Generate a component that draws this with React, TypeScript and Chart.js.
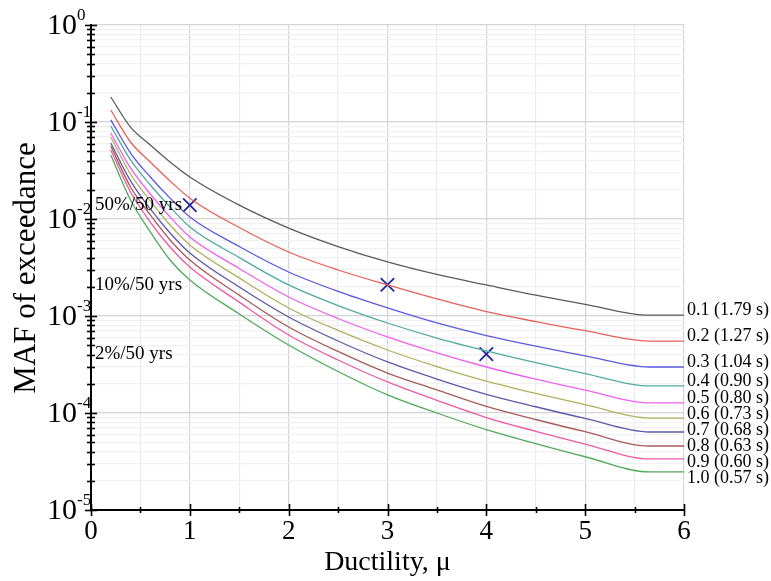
import React, { useEffect, useRef } from "react";
import { Chart, registerables } from "chart.js";

Chart.register(...registerables);

// ---------- data ----------
const ductility = [0.2, 0.4, 0.6, 0.8, 1, 1.5, 2, 2.5, 3, 3.5, 4, 4.5, 5, 5.65, 6];

const seriesLabels = [
  "0.1 (1.79 s)",
  "0.2 (1.27 s)",
  "0.3 (1.04 s)",
  "0.4 (0.90 s)",
  "0.5 (0.80 s)",
  "0.6 (0.73 s)",
  "0.7 (0.68 s)",
  "0.8 (0.63 s)",
  "0.9 (0.60 s)",
  "1.0 (0.57 s)",
];

const maf01 = [0.181, 0.0887, 0.0579, 0.0387, 0.0271, 0.0139, 0.00807, 0.0052, 0.00361, 0.00268, 0.00209, 0.00164, 0.00132, 0.00102, 0.00102];
const maf02 = [0.133, 0.0622, 0.0387, 0.0247, 0.0164, 0.00817, 0.00457, 0.00298, 0.00209, 0.0015, 0.00111, 0.000877, 0.000705, 0.000552, 0.000552];
const maf03 = [0.105, 0.0479, 0.0271, 0.0164, 0.0105, 0.0052, 0.00284, 0.00179, 0.00121, 0.000847, 0.000628, 0.000489, 0.000388, 0.000298, 0.000298];
const maf04 = [0.091, 0.0406, 0.0224, 0.0133, 0.00828, 0.00401, 0.00209, 0.00128, 0.000847, 0.000593, 0.000437, 0.00033, 0.000255, 0.00019, 0.00019];
const maf05 = [0.0771, 0.0336, 0.0181, 0.0105, 0.00652, 0.00309, 0.00157, 0.000942, 0.000608, 0.000416, 0.000298, 0.000223, 0.000172, 0.000127, 0.000127];
const maf06 = [0.07, 0.0291, 0.01535, 0.00867, 0.0054, 0.00247, 0.00121, 0.00071, 0.000446, 0.000301, 0.000213, 0.000159, 0.000122, 0.0000887, 0.0000887];
const maf07 = [0.0608, 0.0247, 0.0127, 0.00718, 0.00446, 0.00199, 0.000977, 0.000552, 0.000336, 0.000224, 0.000156, 0.000116, 0.0000879, 0.0000637, 0.0000637];
const maf08 = [0.0566, 0.0214, 0.011, 0.00608, 0.00378, 0.00164, 0.000771, 0.000431, 0.000258, 0.000173, 0.000117, 0.0000857, 0.0000641, 0.0000457, 0.0000457];
const maf09 = [0.0514, 0.019, 0.00931, 0.00514, 0.0032, 0.00139, 0.000637, 0.000352, 0.000209, 0.000135, 0.0000897, 0.0000647, 0.0000479, 0.0000336, 0.0000336];
const maf10 = [0.0457, 0.0157, 0.00735, 0.00378, 0.00235, 0.00105, 0.000502, 0.000268, 0.000154, 0.0001, 0.0000673, 0.0000483, 0.0000354, 0.0000247, 0.0000247];

const seriesValues = [maf01, maf02, maf03, maf04, maf05, maf06, maf07, maf08, maf09, maf10];

const seriesColors = [
  "#5a5a5a",
  "#e8605a",
  "#5a5ae0",
  "#50aaa0",
  "#ee60ee",
  "#b0b060",
  "#5a5aa8",
  "#a85a5a",
  "#ee5aa0",
  "#50aa58",
];

const hazardLabels = ["50%/50 yrs", "10%/50 yrs", "2%/50 yrs"];
const hazardMAF = [0.0139, 0.0021, 0.000404];
const markerDuctility = [1, 3, 4];

const yTickExponents = [0, -1, -2, -3, -4, -5];
const xTickLabels = ["0", "1", "2", "3", "4", "5", "6"];

const xTitle = "Ductility, μ";
const yTitle = "MAF of exceedance";

const SERIF = "'Liberation Serif', 'Times New Roman', serif";

function isDecade(v: number) {
  const l = Math.log10(v);
  return Math.abs(l - Math.round(l)) < 1e-9;
}

const decoratePlugin = {
  id: "decorate",
  afterDraw(chart: any) {
    const ctx = chart.ctx;
    const xs = chart.scales.x;
    const ys = chart.scales.y;
    const area = chart.chartArea;
    ctx.save();

    // axis lines
    ctx.strokeStyle = "#000";
    ctx.lineWidth = 2;
    ctx.beginPath();
    ctx.moveTo(area.left, area.top - 1);
    ctx.lineTo(area.left, area.bottom);
    ctx.lineTo(area.right + 1, area.bottom);
    ctx.stroke();

    // y tick marks (crossing)
    ctx.lineWidth = 1.6;
    ys.ticks.forEach((t: any) => {
      const y = Math.round(ys.getPixelForValue(t.value)) + 0.5;
      const len = isDecade(t.value) ? 6 : 4;
      ctx.beginPath();
      ctx.moveTo(area.left - len, y);
      ctx.lineTo(area.left + len, y);
      ctx.stroke();
    });
    // x tick marks (crossing)
    xs.ticks.forEach((t: any) => {
      const x = Math.round(xs.getPixelForValue(t.value)) + 0.5;
      const major = Math.abs(t.value - Math.round(t.value)) < 1e-9;
      const len = major ? 6 : 3;
      ctx.beginPath();
      ctx.moveTo(x, area.bottom - len);
      ctx.lineTo(x, area.bottom + len);
      ctx.stroke();
    });

    ctx.fillStyle = "#000";
    // y tick labels 10^n
    yTickExponents.forEach((e) => {
      const y = ys.getPixelForValue(Math.pow(10, e));
      ctx.font = `30px ${SERIF}`;
      ctx.textAlign = "right";
      ctx.textBaseline = "middle";
      ctx.fillText("10", 77, y + 1);
      ctx.font = `17px ${SERIF}`;
      ctx.textAlign = "left";
      ctx.fillText(e === 0 ? "0" : "-" + Math.abs(e), 77, y - 9);
    });

    // x tick labels
    ctx.font = `27px ${SERIF}`;
    ctx.textAlign = "center";
    ctx.textBaseline = "top";
    xTickLabels.forEach((lab) => {
      const x = xs.getPixelForValue(Number(lab));
      ctx.fillText(lab, x, 518);
    });

    // axis titles
    ctx.font = `28px ${SERIF}`;
    ctx.textAlign = "center";
    ctx.textBaseline = "middle";
    ctx.fillText(xTitle, (area.left + area.right) / 2, 563);

    ctx.save();
    ctx.translate(27, 268);
    ctx.rotate(-Math.PI / 2);
    ctx.font = `31px ${SERIF}`;
    ctx.fillText(yTitle, 0, 0);
    ctx.restore();

    // hazard level labels
    ctx.font = `19px ${SERIF}`;
    ctx.textAlign = "left";
    ctx.textBaseline = "middle";
    hazardLabels.forEach((lab, i) => {
      const y = ys.getPixelForValue(hazardMAF[i]);
      ctx.fillText(lab, area.left + 4, y);
    });

    // series end labels
    ctx.font = `18px ${SERIF}`;
    let prev = -Infinity;
    seriesValues.forEach((vals, i) => {
      const yEnd = ys.getPixelForValue(vals[vals.length - 1]);
      const y = Math.max(yEnd - 5, prev + 16);
      prev = y;
      ctx.fillText(seriesLabels[i], area.right + 3, y);
    });

    ctx.restore();
  },
};

export default function App() {
  const ref = useRef<HTMLCanvasElement | null>(null);

  useEffect(() => {
    if (!ref.current) return;

    const lineSets = seriesValues.map((vals, i) => ({
      type: "line" as const,
      label: seriesLabels[i],
      data: ductility.map((d, j) => ({ x: d, y: vals[j] })),
      borderColor: seriesColors[i],
      backgroundColor: seriesColors[i],
      borderWidth: 1.3,
      pointRadius: 0,
      cubicInterpolationMode: "monotone" as const,
      fill: false,
    }));

    const markerSet = {
      type: "scatter" as const,
      label: "hazard",
      data: markerDuctility.map((d, i) => ({ x: d, y: hazardMAF[i] })),
      pointStyle: "crossRot",
      pointRadius: 9.5,
      borderColor: "#25259a",
      backgroundColor: "#25259a",
      pointBorderWidth: 1.8,
      borderWidth: 1.8,
      showLine: false,
    };

    const chart = new Chart(ref.current, {
      type: "line",
      data: { datasets: [...lineSets, markerSet] as any },
      options: {
        animation: false,
        responsive: false,
        devicePixelRatio: 1,
        layout: { padding: { left: 0, right: 87, top: 25, bottom: 0 } },
        plugins: {
          legend: { display: false },
          tooltip: { enabled: false },
        },
        scales: {
          x: {
            type: "linear",
            min: 0,
            max: 6,
            afterBuildTicks: (s: any) => {
              const t = [];
              for (let i = 0; i <= 12; i++) t.push({ value: i * 0.5 });
              s.ticks = t;
            },
            afterFit: (s: any) => {
              s.height = 71;
            },
            ticks: { display: false },
            border: { display: false },
            grid: {
              drawTicks: false,
              lineWidth: 1.2,
              color: (c: any) =>
                Math.abs(c.tick.value - Math.round(c.tick.value)) < 1e-9 ? "#d4d4d4" : "#ececec",
            },
          },
          y: {
            type: "logarithmic",
            min: 1e-5,
            max: 1,
            afterBuildTicks: (s: any) => {
              const t = [];
              for (let e = -5; e < 0; e++) {
                for (let k = 1; k <= 9; k++) t.push({ value: k * Math.pow(10, e) });
              }
              t.push({ value: 1 });
              s.ticks = t;
            },
            afterFit: (s: any) => {
              s.width = 91;
            },
            ticks: { display: false },
            border: { display: false },
            grid: {
              drawTicks: false,
              lineWidth: 1.2,
              color: (c: any) => (isDecade(c.tick.value) ? "#d4d4d4" : "#f1f1f1"),
            },
          },
        },
      },
      plugins: [decoratePlugin],
    });

    return () => chart.destroy();
  }, []);

  return (
    <div style={{ position: "absolute", left: 0, top: 0, width: 771, height: 581, background: "#fff" }}>
      <canvas ref={ref} width={771} height={581} style={{ display: "block" }} />
    </div>
  );
}
